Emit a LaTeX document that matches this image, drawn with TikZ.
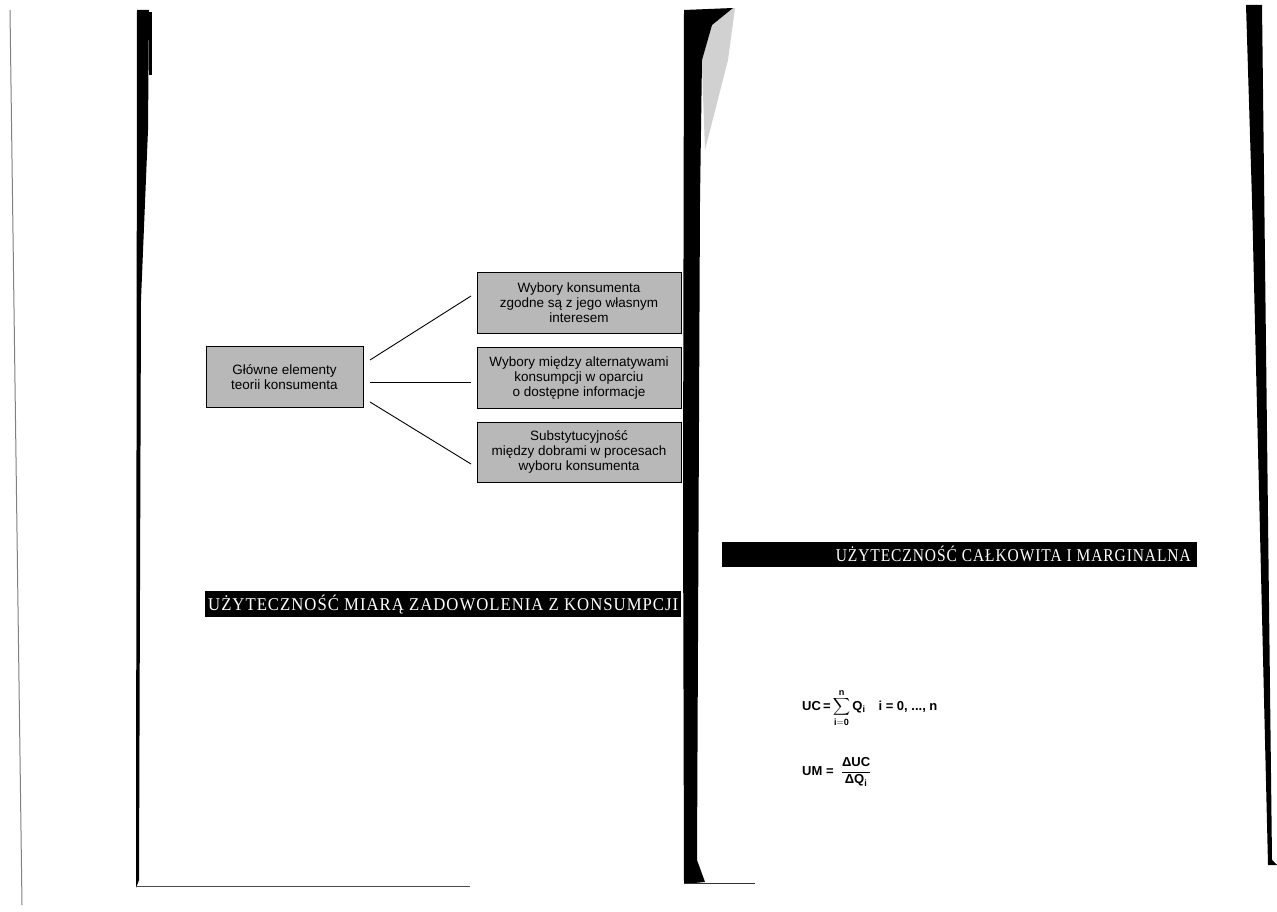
\documentclass[tikz,border=0pt]{standalone}
\usepackage{amsmath}
\usepackage{graphicx}
\usepackage{fontspec}
\setmainfont{Liberation Sans}
\newfontfamily\titlefont{Liberation Serif}
\tikzset{
  gbox/.style={draw=black, line width=1pt, fill=black!28, align=center,
    font=\fontsize{13.5}{15}\selectfont, inner sep=0pt},
  link/.style={draw=black, line width=0.9pt},
  titlebar/.style={text=white, inner sep=0pt,
    font=\titlefont\fontsize{18}{18}\selectfont},
  formula/.style={anchor=base west, inner sep=0pt, font=\fontsize{13}{15}\selectfont\bfseries},
  pageedge/.style={fill=black, draw=none}
}
\begin{document}
\begin{tikzpicture}[x=1pt,y=-1pt]
\useasboundingbox (0,0) rectangle (1277,912);
\fill[white] (0,0) rectangle (1277,912);
% page edges
\draw[black!50, line width=1pt] (10,10) -- (22,905);
\fill[pageedge] (137,10) -- (149,10) -- (148,130) -- (141,300) -- (139,880) -- (136,888) -- cycle;
\fill[pageedge] (149,12) rectangle (152,75);
\draw[black!70, line width=0.8pt] (137,886) -- (470,886);
\fill[black!18] (700,10) -- (735,8) -- (728,60) -- (705,150) -- cycle;
\fill[pageedge] (684,10) -- (733,8) -- (712,25) -- (702,60) -- (700,200) -- (697,860) -- (705,882) -- (684,884) -- (683,500) -- cycle;
\draw[black!80, line width=0.8pt] (684,883) -- (755,883);
\fill[pageedge] (1246,5) -- (1262,5) -- (1272,860) -- (1277,865) -- (1268,865) -- (1252,200) -- cycle;

% diagram
\node[gbox, minimum width=157pt, minimum height=61pt] (main) at (284.5,377) {Główne elementy\\teorii konsumenta};
\node[gbox, minimum width=204pt, minimum height=61pt] (b1) at (579,303) {Wybory konsumenta\\zgodne są z jego własnym\\interesem};
\node[gbox, minimum width=204pt, minimum height=61pt] (b2) at (579,378) {Wybory między alternatywami\\konsumpcji w oparciu\\o dostępne informacje};
\node[gbox, minimum width=204pt, minimum height=60pt] (b3) at (579,452) {Substytucyjność\\między dobrami w procesach\\wyboru konsumenta};
\coordinate (m1) at (370,360);
\coordinate (m2) at (370,382);
\coordinate (m3) at (370,402);
\coordinate (e1) at (471,296);
\coordinate (e2) at (471,382);
\coordinate (e3) at (471,464);
\draw[link] (m1) -- (e1);
\draw[link] (m2) -- (e2);
\draw[link] (m3) -- (e3);

% title bars
\fill (205,591) rectangle (681,617);
\node[titlebar, anchor=base west] (t1) at (208,610) {\resizebox{470pt}{\height}{\addfontfeature{LetterSpace=6}UŻYTECZNOŚĆ MIARĄ ZADOWOLENIA Z KONSUMPCJI}};
\fill (722,542) rectangle (1197,567);
\node[titlebar, anchor=base east] (t2) at (1191,561) {\resizebox{355pt}{\height}{\addfontfeature{LetterSpace=6}UŻYTECZNOŚĆ CAŁKOWITA I MARGINALNA}};

% formulas
\node[formula] (f1) at (802,710)
  {UC\,=\,$\displaystyle\sum_{\mathbf{i=0}}^{\mathbf{n}}$\,Q$_{\mathbf{i}}$\quad i = 0, ..., n};
\node[formula] (f2) at (802,775)
  {UM =\; $\dfrac{\text{ΔUC}}{\text{ΔQ}_{\mathbf{i}}}$};
\end{tikzpicture}
\end{document}
